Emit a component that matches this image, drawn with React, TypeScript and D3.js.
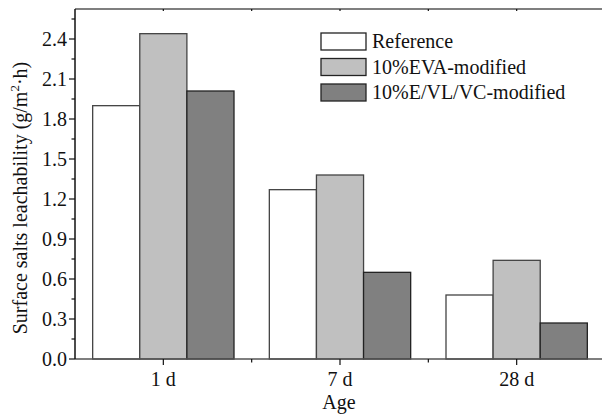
import React from "react";
import * as d3 from "d3";

const categories = ["1 d", "7 d", "28 d"];
const seriesNames = ["Reference", "10%EVA-modified", "10%E/VL/VC-modified"];
const referenceValues = [1.9, 1.27, 0.48];
const evaValues = [2.44, 1.38, 0.74];
const evlvcValues = [2.01, 0.65, 0.27];
const yTicks = [0, 0.3, 0.6, 0.9, 1.2, 1.5, 1.8, 2.1, 2.4];
const yMinorTicks = [0.15, 0.45, 0.75, 1.05, 1.35, 1.65, 1.95, 2.25, 2.55];
const fills = ["#ffffff", "#c0c0c0", "#808080"];

const W = 602;
const H = 414;
const M = { left: 75, right: 605, top: 9, bottom: 359 };
const FONT = "'Liberation Serif', 'Times New Roman', serif";

export default function App() {
  const series = [referenceValues, evaValues, evlvcValues];
  const x = d3.scaleBand<string>().domain(categories).range([M.left, M.right]).paddingInner(0).paddingOuter(0);
  const inner = d3.scaleBand<number>().domain([0, 1, 2]).range([0, x.bandwidth() * 0.8]);
  const y = d3.scaleLinear().domain([0, 2.625]).range([M.bottom, M.top]);
  const groupOffset = x.bandwidth() * 0.1;
  const minorX = categories.slice(1).map((c) => x(c)!);

  return (
    <svg width={W} height={H} style={{ position: "absolute", left: 0, top: 0, background: "#fff" }} fontFamily={FONT}>
      {/* bars */}
      {categories.map((c, ci) =>
        series.map((vals, si) => (
          <rect
            key={`${c}-${si}`}
            x={x(c)! + groupOffset + inner(si)!}
            y={y(vals[ci])}
            width={inner.bandwidth()}
            height={y(0) - y(vals[ci])}
            fill={fills[si]}
            stroke={si === 2 ? "#222" : "#444"}
            strokeWidth={1.3}
          />
        ))
      )}
      {/* axes frame */}
      <line x1={M.left} x2={M.right} y1={M.top} y2={M.top} stroke="#555" strokeWidth={1.5} />
      <line x1={M.left} x2={M.right} y1={M.bottom} y2={M.bottom} stroke="#555" strokeWidth={1.5} />
      <line x1={M.left} x2={M.left} y1={M.top} y2={M.bottom} stroke="#111" strokeWidth={1.5} />
      {/* y ticks */}
      {yTicks.map((t) => (
        <g key={t}>
          <line x1={M.left - 6} x2={M.left} y1={y(t)} y2={y(t)} stroke="#111" strokeWidth={1.2} />
          <text x={M.left - 8} y={y(t)} dy="0.34em" textAnchor="end" fontSize={20} fill="#111">
            {d3.format(".1f")(t)}
          </text>
        </g>
      ))}
      {yMinorTicks.map((t) => (
        <line key={t} x1={M.left - 3.5} x2={M.left} y1={y(t)} y2={y(t)} stroke="#111" strokeWidth={1.2} />
      ))}
      {/* x ticks */}
      {categories.map((c) => {
        const cx = x(c)! + x.bandwidth() / 2;
        return (
          <g key={c}>
            <line x1={cx} x2={cx} y1={M.bottom} y2={M.bottom + 6} stroke="#111" strokeWidth={1.2} />
            <line x1={cx} x2={cx} y1={M.top} y2={M.top + 2} stroke="#111" strokeWidth={1.2} />
            <text x={cx} y={386} textAnchor="middle" fontSize={20} fill="#111">
              {c}
            </text>
          </g>
        );
      })}
      {minorX.map((mx) => (
        <g key={mx}>
          <line x1={mx} x2={mx} y1={M.bottom} y2={M.bottom + 3.5} stroke="#111" strokeWidth={1.2} />
          <line x1={mx} x2={mx} y1={M.top} y2={M.top + 2} stroke="#111" strokeWidth={1.2} />
        </g>
      ))}
      {/* axis titles */}
      <text x={339} y={409} textAnchor="middle" fontSize={20} fill="#111">
        Age
      </text>
      <text
        transform={`translate(27, 198) rotate(-90)`}
        textAnchor="middle"
        fontSize={20}
        fill="#111"
      >
        Surface salts leachability (g/m
        <tspan fontSize={13} dy="-8">2</tspan>
        <tspan dy="8">·h)</tspan>
      </text>
      {/* legend */}
      {seriesNames.map((n, i) => (
        <g key={n}>
          <rect x={321} y={33 + i * 25.5} width={45} height={17} fill={fills[i]} stroke="#222" strokeWidth={1.3} />
          <text x={372} y={33 + i * 25.5 + 15} fontSize={20} fill="#111">
            {n}
          </text>
        </g>
      ))}
    </svg>
  );
}
